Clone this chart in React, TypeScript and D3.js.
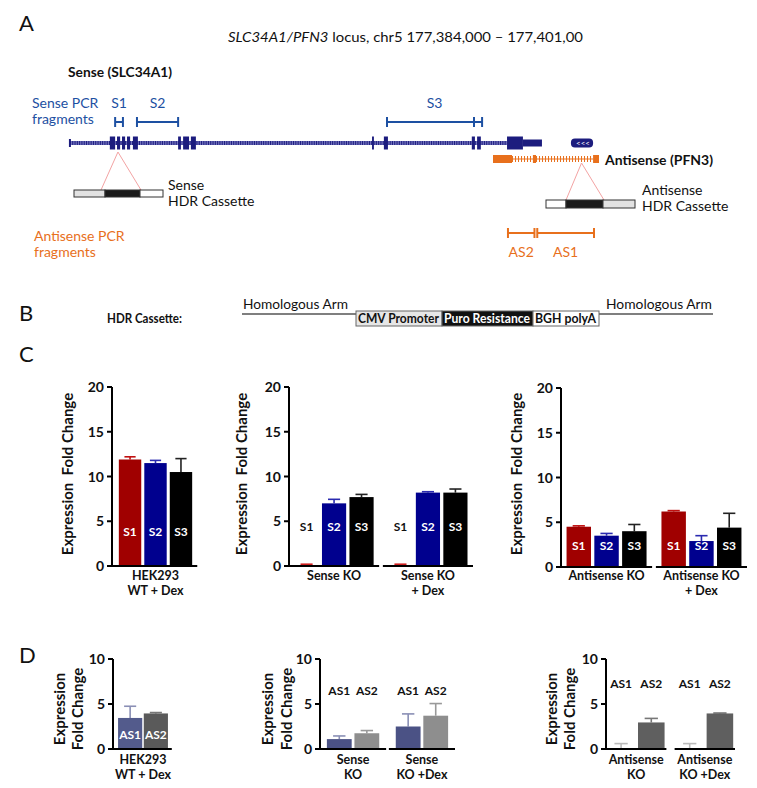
import React from "react";
import * as d3 from "d3";

// ---------- Panel A: locus model (positions in kb from locus start) ----------
const locusKb = [0, 17];
const senseIntron = [0.03, 14.05];
const senseExons = [
  [1.31, 1.48], [1.54, 1.64], [1.7, 1.8], [1.86, 1.96], [2.05, 2.21],
  [3.5, 3.59], [3.66, 3.85], [3.91, 4.07], [9.72, 9.78], [10.1, 10.23],
  [12.92, 13.02], [13.09, 13.21],
];
const senseCds = [14.05, 14.56];
const senseUtr = [14.56, 15.17];
const pfn3Mark = [16.1, 16.81];
const antisenseIntron = [14.21, 16.81];
const antisenseBigExons = [[13.6, 14.21], [16.81, 17.0]];
const antisenseThinExons = [[14.88, 14.98]];
const senseFragNames = ["S1", "S2", "S3"];
const senseFragSpans = [[1.48, 1.73], [2.18, 3.5], [10.2, 13.25]];
const senseFragExtraTicks = [12.99];
const antisenseFragNames = ["AS2", "AS1"];
const antisenseFragSpans = [[14.08, 14.93], [15.02, 16.84]];
const senseKoSite = 1.57;
const antisenseKoSite = 16.44;

// ---------- Panel B: HDR cassette ----------
const cassetteParts = ["CMV Promoter", "Puro Resistance", "BGH polyA"];
const cassetteSizes = [86, 91, 66];

// ---------- Panel C ----------
const sLabels = ["S1", "S2", "S3"];
const c1Groups = ["HEK293\nWT + Dex"];
const c1Means = [[11.9, 11.5, 10.5]];
const c1ErrTop = [[12.2, 11.8, 12.0]];
const c2Groups = ["Sense KO", "Sense KO\n+ Dex"];
const c2Means = [[0.1, 7.0, 7.7], [0.1, 8.2, 8.2]];
const c2ErrTop = [[0.2, 7.45, 8.0], [0.2, 8.3, 8.6]];
const c3Groups = ["Antisense KO", "Antisense KO\n+ Dex"];
const c3Means = [[4.5, 3.5, 4.0], [6.2, 2.9, 4.4]];
const c3ErrTop = [[4.6, 3.75, 4.75], [6.3, 3.5, 6.0]];
const cTicks = [0, 5, 10, 15, 20];

// ---------- Panel D ----------
const asLabels = ["AS1", "AS2"];
const d1Groups = ["HEK293\nWT + Dex"];
const d1Means = [[3.45, 3.95]];
const d1ErrTop = [[4.75, 4.05]];
const d2Groups = ["Sense\nKO", "Sense\nKO +Dex"];
const d2Means = [[1.1, 1.75], [2.5, 3.7]];
const d2ErrTop = [[1.45, 2.05], [3.9, 5.05]];
const d3Groups = ["Antisense\nKO", "Antisense\nKO +Dex"];
const d3Means = [[0.05, 2.95], [0.05, 3.95]];
const d3ErrTop = [[0.6, 3.4], [0.6, 4.0]];
const dTicks = [0, 5, 10];

const FONT = "Lato, 'Open Sans', sans-serif";

type Layout = {
  x0: number; x1: number; yTop: number; yBottom: number;
  gPad: number; bPadIn: number; bPadOut: number;
  titleX: number[]; titleY: number; labelAt: number;
  groupLabelY: number; lineH: number;
};

function BarChart(props: {
  groups: string[]; series: string[]; means: number[][]; errTop: number[][];
  colors: string[]; errColors: string[]; yMax: number; ticks: number[];
  title: string[]; L: Layout;
}) {
  const { groups, series, means, errTop, colors, errColors, yMax, ticks, title, L } = props;
  const y = d3.scaleLinear().domain([0, yMax]).range([L.yBottom, L.yTop]);
  const gx = d3.scaleBand<string>().domain(groups).range([L.x0, L.x1]).paddingInner(L.gPad);
  const bx = d3.scaleBand<string>().domain(series).range([0, gx.bandwidth()])
    .paddingInner(L.bPadIn).paddingOuter(L.bPadOut);
  const bw = bx.bandwidth();
  return (
    <g fontFamily={FONT}>
      {groups.map((g, gi) => {
        const g0 = gx(g) as number;
        return (
          <g key={g}>
            {series.map((s, si) => {
              const v = means[gi][si];
              const e = errTop[gi][si];
              const bxs = g0 + (bx(s) as number);
              const cx = bxs + bw / 2;
              const white = v > L.labelAt + 0.3;
              return (
                <g key={s}>
                  <line x1={cx} x2={cx} y1={y(v)} y2={y(e)} stroke={errColors[si]} strokeWidth={1.6} />
                  <line x1={cx - bw * 0.25} x2={cx + bw * 0.25} y1={y(e)} y2={y(e)} stroke={errColors[si]} strokeWidth={1.6} />
                  <rect x={bxs} y={y(v)} width={bw} height={y(0) - y(v)} fill={colors[si]} />
                  <text x={cx} y={y(L.labelAt)} dy="0.35em" textAnchor="middle" fontWeight="bold"
                    fontSize={12} fill={white ? "#fff" : "#111"}>{s}</text>
                </g>
              );
            })}
            <line x1={gi === 0 ? L.x0 : g0} x2={g0 + gx.bandwidth()} y1={y(0)} y2={y(0)} stroke="#000" strokeWidth={2} />
            {g.split("\n").map((ln, li) => (
              <text key={li} x={g0 + gx.bandwidth() / 2} y={L.groupLabelY + li * L.lineH} textAnchor="middle"
                fontWeight="bold" fontSize={12.5} fill="#111">{ln}</text>
            ))}
          </g>
        );
      })}
      <line x1={L.x0} x2={L.x0} y1={y(0) + 1} y2={y(yMax)} stroke="#000" strokeWidth={2} />
      {ticks.map((t) => (
        <g key={t}>
          <line x1={L.x0 - 5} x2={L.x0} y1={y(t)} y2={y(t)} stroke="#000" strokeWidth={2} />
          <text x={L.x0 - 8} y={y(t)} dy="0.36em" textAnchor="end" fontWeight="bold" fontSize={14} fill="#111">{t}</text>
        </g>
      ))}
      {title.map((t, i) => (
        <text key={i} transform={`translate(${L.titleX[i]},${L.titleY}) rotate(-90)`} textAnchor="middle"
          dy="0.35em" fontWeight="bold" fontSize={15} fill="#111" style={{ whiteSpace: "pre" }}>{t}</text>
      ))}
    </g>
  );
}

export default function App() {
  const xk = d3.scaleLinear().domain(locusKb).range([69, 599]);
  const navy = "#1c1c7e";
  const pcrBlue = "#1d50a2";
  const orange = "#e8701c";
  const pink = "#f3a3a3";
  const geneY = 143;
  const asY = 159;
  const fragY = 122;
  const asFragY = 233;

  // cassette in panel B
  const cassX = d3.scaleLinear().domain([0, d3.sum(cassetteSizes)]).range([356, 599]);
  const cassStarts = cassetteSizes.map((_, i) => d3.sum(cassetteSizes.slice(0, i)));
  const cassFill = ["#e6e6e6", "#111", "#fff"];
  const cassText = ["#111", "#fff", "#111"];
  const bTop = 311;

  const cColors = ["#a00000", "#00008e", "#000000"];
  const cTitle = ["Expression\u00a0\u00a0Fold Change"];
  const dTitle = ["Expression", "Fold Change"];

  const cBase = { yTop: 387, yBottom: 566, groupLabelY: 580, lineH: 14.5, titleY: 474, gPad: 0.04, bPadIn: 0.12, bPadOut: 0.2 };
  const dBase = { yTop: 659, yBottom: 749, groupLabelY: 764, lineH: 14.5, titleY: 709, gPad: 0.04, bPadIn: 0.06, bPadOut: 0.15 };

  return (
    <svg width={757} height={788} style={{ position: "absolute", left: 0, top: 0, background: "#fff" }} fontFamily={FONT}>
      <rect width={757} height={788} fill="#fff" />
      {/* Panel letters */}
      {[["A", 31], ["B", 321], ["C", 362], ["D", 663]].map(([l, yy]) => (
        <text key={l as string} x={19} y={yy as number} fontSize={22} fill="#111">{l}</text>
      ))}

      {/* ---------- Panel A ---------- */}
      <text x={228} y={42} fontSize={14} fill="#111" textLength={355} lengthAdjust="spacingAndGlyphs">
        <tspan fontStyle="italic">SLC34A1/PFN3</tspan> locus, chr5 177,384,000 – 177,401,00
      </text>
      <text x={68} y={77} fontSize={14} fontWeight="bold" fill="#111" textLength={104} lengthAdjust="spacingAndGlyphs">Sense (SLC34A1)</text>
      <text x={32} y={108} fontSize={14} fill={pcrBlue}>Sense PCR</text>
      <text x={32} y={124} fontSize={14} fill={pcrBlue}>fragments</text>

      {senseFragNames.map((n, i) => {
        const [a, b] = senseFragSpans[i];
        return (
          <g key={n}>
            <text x={(xk(a) + xk(b)) / 2} y={108} textAnchor="middle" fontSize={14} fill={pcrBlue}>{n}</text>
            <line x1={xk(a)} x2={xk(b)} y1={fragY} y2={fragY} stroke={pcrBlue} strokeWidth={2} />
            <line x1={xk(a)} x2={xk(a)} y1={fragY - 5} y2={fragY + 5} stroke={pcrBlue} strokeWidth={2} />
            <line x1={xk(b)} x2={xk(b)} y1={fragY - 5} y2={fragY + 5} stroke={pcrBlue} strokeWidth={2} />
          </g>
        );
      })}
      {senseFragExtraTicks.map((t) => (
        <line key={t} x1={xk(t)} x2={xk(t)} y1={fragY - 5} y2={fragY + 5} stroke={pcrBlue} strokeWidth={2} />
      ))}

      {/* sense gene */}
      <line x1={xk(senseIntron[0])} x2={xk(senseIntron[1])} y1={geneY} y2={geneY} stroke="#7373bd" strokeWidth={4} />
      <line x1={xk(senseIntron[0])} x2={xk(senseIntron[1])} y1={geneY} y2={geneY} stroke={navy} strokeWidth={4} strokeDasharray="1 1.3" />
      <line x1={xk(senseIntron[0])} x2={xk(senseIntron[0])} y1={geneY - 4} y2={geneY + 4} stroke={navy} strokeWidth={2} />
      {senseExons.map(([a, b], i) => (
        <rect key={i} x={xk(a)} y={geneY - 6.5} width={xk(b) - xk(a)} height={13} fill={navy} />
      ))}
      <rect x={xk(senseCds[0])} y={geneY - 6.5} width={xk(senseCds[1]) - xk(senseCds[0])} height={13} fill={navy} />
      <rect x={xk(senseUtr[0])} y={geneY - 3.5} width={xk(senseUtr[1]) - xk(senseUtr[0])} height={7} fill={navy} />
      <rect x={xk(pfn3Mark[0])} y={geneY - 4.5} width={xk(pfn3Mark[1]) - xk(pfn3Mark[0])} height={9} rx={4} fill={navy} />
      <text x={(xk(pfn3Mark[0]) + xk(pfn3Mark[1])) / 2 + 1} y={geneY} dy="0.33em" textAnchor="middle" fontSize={8} fill="#fff">{"<<<"}</text>

      {/* antisense gene */}
      <line x1={xk(antisenseIntron[0])} x2={xk(antisenseIntron[1])} y1={asY} y2={asY} stroke="#f3a06a" strokeWidth={1.5} />
      <line x1={xk(antisenseIntron[0])} x2={xk(antisenseIntron[1])} y1={asY} y2={asY} stroke={orange} strokeWidth={6} strokeDasharray="1 2" />
      {antisenseBigExons.map(([a, b], i) => (
        <rect key={i} x={xk(a)} y={asY - 4} width={xk(b) - xk(a)} height={8} fill={orange} />
      ))}
      {antisenseThinExons.map(([a, b], i) => (
        <rect key={i} x={xk(a)} y={asY - 4} width={xk(b) - xk(a)} height={8} fill={orange} />
      ))}
      <text x={605} y={165} fontSize={14} fontWeight="bold" fill="#111" textLength={108} lengthAdjust="spacingAndGlyphs">Antisense (PFN3)</text>

      {/* Sense HDR cassette */}
      <line x1={xk(senseKoSite)} y1={152} x2={101} y2={190} stroke={pink} strokeWidth={1} />
      <line x1={xk(senseKoSite)} y1={152} x2={141} y2={190} stroke={pink} strokeWidth={1} />
      <rect x={74} y={190} width={31} height={7} fill="#e2e2e2" stroke="#333" strokeWidth={1} />
      <rect x={105} y={190} width={35} height={7} fill="#1a1a1a" stroke="#333" strokeWidth={1} />
      <rect x={140} y={190} width={23} height={7} fill="#fff" stroke="#333" strokeWidth={1} />
      <text x={168} y={190} fontSize={14} fill="#111">Sense</text>
      <text x={168} y={206} fontSize={14} fill="#111">HDR Cassette</text>

      {/* Antisense HDR cassette */}
      <line x1={xk(antisenseKoSite)} y1={163} x2={566} y2={200} stroke={pink} strokeWidth={1} />
      <line x1={xk(antisenseKoSite)} y1={163} x2={604} y2={200} stroke={pink} strokeWidth={1} />
      <rect x={546} y={200} width={20} height={8} fill="#fff" stroke="#333" strokeWidth={1} />
      <rect x={566} y={200} width={37} height={8} fill="#1a1a1a" stroke="#333" strokeWidth={1} />
      <rect x={603} y={200} width={32} height={8} fill="#e2e2e2" stroke="#333" strokeWidth={1} />
      <text x={642} y={195} fontSize={14} fill="#111">Antisense</text>
      <text x={642} y={211} fontSize={14} fill="#111">HDR Cassette</text>

      {/* Antisense PCR fragments */}
      <text x={34} y={241} fontSize={14} fill={orange}>Antisense PCR</text>
      <text x={34} y={257} fontSize={14} fill={orange}>fragments</text>
      {antisenseFragNames.map((n, i) => {
        const [a, b] = antisenseFragSpans[i];
        return (
          <g key={n}>
            <line x1={xk(a)} x2={xk(b)} y1={asFragY} y2={asFragY} stroke={orange} strokeWidth={2} />
            <line x1={xk(a)} x2={xk(a)} y1={asFragY - 5} y2={asFragY + 5} stroke={orange} strokeWidth={2} />
            <line x1={xk(b)} x2={xk(b)} y1={asFragY - 5} y2={asFragY + 5} stroke={orange} strokeWidth={2} />
            <text x={(xk(a) + xk(b)) / 2} y={257} textAnchor="middle" fontSize={14} fill={orange}>{n}</text>
          </g>
        );
      })}

      {/* ---------- Panel B ---------- */}
      <text x={107} y={bTop + 12} fontSize={14} fontWeight="bold" fill="#111" textLength={75} lengthAdjust="spacingAndGlyphs">HDR Cassette:</text>
      <line x1={242} x2={356} y1={bTop + 3} y2={bTop + 3} stroke="#555" strokeWidth={1.5} />
      <line x1={599} x2={713} y1={bTop + 3} y2={bTop + 3} stroke="#555" strokeWidth={1.5} />
      <text x={243} y={bTop - 2} fontSize={14} fill="#111" textLength={105} lengthAdjust="spacingAndGlyphs">Homologous Arm</text>
      <text x={606} y={bTop - 2} fontSize={14} fill="#111" textLength={106} lengthAdjust="spacingAndGlyphs">Homologous Arm</text>
      {cassetteParts.map((p, i) => {
        const xa = cassX(cassStarts[i]);
        const xb = cassX(cassStarts[i] + cassetteSizes[i]);
        return (
          <g key={p}>
            <rect x={xa} y={bTop} width={xb - xa} height={15} fill={cassFill[i]} stroke="#666" strokeWidth={1} />
            <text x={xa + 2} y={bTop + 11.5} fontSize={12.5} fontWeight="bold" fill={cassText[i]}
              textLength={xb - xa - 5} lengthAdjust="spacingAndGlyphs">{p}</text>
          </g>
        );
      })}

      {/* ---------- Panel C ---------- */}
      <BarChart groups={c1Groups} series={sLabels} means={c1Means} errTop={c1ErrTop} colors={cColors} errColors={["#c01010", "#2a2ab0", "#222"]}
        yMax={20} ticks={cTicks} title={cTitle}
        L={{ ...cBase, x0: 112, x1: 199, titleX: [68], labelAt: 3.8 }} />
      <BarChart groups={c2Groups} series={sLabels} means={c2Means} errTop={c2ErrTop} colors={cColors} errColors={["#d02020", "#2a2ab0", "#222"]}
        yMax={20} ticks={cTicks} title={cTitle}
        L={{ ...cBase, x0: 289, x1: 473, titleX: [242], labelAt: 4.4 }} />
      <BarChart groups={c3Groups} series={sLabels} means={c3Means} errTop={c3ErrTop} colors={cColors} errColors={["#c01010", "#2a2ab0", "#222"]}
        yMax={20} ticks={cTicks} title={cTitle}
        L={{ ...cBase, yTop: 388, yBottom: 567, x0: 561, x1: 747, titleX: [517], labelAt: 2.4 }} />

      {/* ---------- Panel D ---------- */}
      <BarChart groups={d1Groups} series={asLabels} means={d1Means} errTop={d1ErrTop} colors={["#535b8c", "#5a5a5a"]} errColors={["#8a8fb5", "#777"]}
        yMax={10} ticks={dTicks} title={dTitle}
        L={{ ...dBase, x0: 113, x1: 173, titleX: [60, 78], labelAt: 1.55 }} />
      <BarChart groups={d2Groups} series={asLabels} means={d2Means} errTop={d2ErrTop} colors={["#4b5285", "#8e8e8e"]} errColors={["#8a8fb5", "#999"]}
        yMax={10} ticks={dTicks} title={dTitle}
        L={{ ...dBase, x0: 320, x1: 455, titleX: [268, 287], labelAt: 6.5, bPadIn: 0.1, bPadOut: 0.25 }} />
      <BarChart groups={d3Groups} series={asLabels} means={d3Means} errTop={d3ErrTop} colors={["#4b5285", "#5f5f5f"]} errColors={["#bbb", "#777"]}
        yMax={10} ticks={dTicks} title={dTitle}
        L={{ ...dBase, x0: 606, x1: 735, titleX: [552, 570], labelAt: 7.3, gPad: 0.12, bPadIn: 0.12, bPadOut: 0.06 }} />
    </svg>
  );
}
